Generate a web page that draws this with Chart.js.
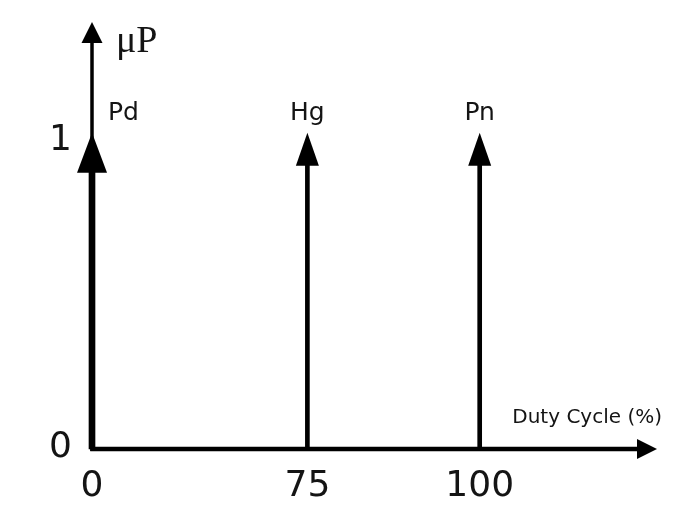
<!DOCTYPE html>
<html><head><meta charset="utf-8">
<script src="https://cdn.jsdelivr.net/npm/chart.js@4.4.1/dist/chart.umd.min.js"></script>
<style>html,body{margin:0;padding:0;background:#fff;}#wrap{width:685px;height:512px;position:relative;}</style>
</head><body><div id="wrap"><canvas id="c"></canvas></div>
<script>
// ---- data ----
const categories = ['Pd', 'Hg', 'Pn'];
const dutyCycle = [0, 75, 100];
const power = [1, 1, 1];
const xTickValues = [0, 75, 100];
const xTickLabels = ['0', '75', '100'];
const yTickValues = [0, 1];
const yTickLabels = ['0', '1'];
const yAxisTitle = 'μP';
const xAxisTitle = 'Duty Cycle (%)';

// schematic (non-uniform) x axis: value -> fraction of axis length
const xAxisStops = [[0, 0], [75, 5 / 13], [100, 9 / 13], [125, 1]];

class SchematicScale extends Chart.LinearScale {
  getPixelForValue(value) {
    const s = xAxisStops;
    for (let i = 1; i < s.length; i++) {
      if (value <= s[i][0] || i === s.length - 1) {
        const [v0, f0] = s[i - 1], [v1, f1] = s[i];
        return this.getPixelForDecimal(f0 + (value - v0) / (v1 - v0) * (f1 - f0));
      }
    }
  }
  getValueForPixel(pixel) {
    const d = this.getDecimalForPixel(pixel), s = xAxisStops;
    for (let i = 1; i < s.length; i++) {
      if (d <= s[i][1] || i === s.length - 1) {
        const [v0, f0] = s[i - 1], [v1, f1] = s[i];
        return v0 + (d - f0) / (f1 - f0) * (v1 - v0);
      }
    }
  }
}
SchematicScale.id = 'schematic';
SchematicScale.defaults = Chart.LinearScale.defaults;
Chart.register(SchematicScale);

const TEXT = '#141414';
const OVERSHOOT = 9; // arrow tip above the value

function tri(ctx, tipX, tipY, w, h, dir) {
  ctx.beginPath();
  if (dir === 'up') {
    ctx.moveTo(tipX, tipY); ctx.lineTo(tipX - w / 2, tipY + h); ctx.lineTo(tipX + w / 2, tipY + h);
  } else {
    ctx.moveTo(tipX, tipY); ctx.lineTo(tipX - h, tipY - w / 2); ctx.lineTo(tipX - h, tipY + w / 2);
  }
  ctx.closePath(); ctx.fill();
}

const schematicPlugin = {
  id: 'schematicArrows',
  beforeDatasetDraw(chart, args) {
    const ds = chart.data.datasets[args.index];
    const el = args.meta.data[0];
    const ctx = chart.ctx;
    ctx.save();
    ctx.beginPath();
    ctx.rect(0, el.y - OVERSHOOT + ds.arrowH * 0.5, chart.width, chart.height);
    ctx.clip();
  },
  afterDatasetDraw(chart) { chart.ctx.restore(); },
  afterDatasetsDraw(chart) {
    const ctx = chart.ctx;
    const { left, right, top, bottom } = chart.chartArea;
    ctx.save();
    ctx.fillStyle = '#000'; ctx.strokeStyle = '#000';
    // y axis
    ctx.lineWidth = 3.5;
    ctx.beginPath(); ctx.moveTo(left, bottom + 2); ctx.lineTo(left, top + 12); ctx.stroke();
    tri(ctx, left, top, 21, 21, 'up');
    // x axis
    ctx.lineWidth = 4.5;
    ctx.beginPath(); ctx.moveTo(left - 1.75, bottom); ctx.lineTo(right - 8, bottom); ctx.stroke();
    tri(ctx, right + 5, bottom, 20, 20, 'right');
    // spike arrowheads and labels
    chart.data.datasets.forEach((ds, i) => {
      const el = chart.getDatasetMeta(i).data[0];
      const tipY = el.y - OVERSHOOT;
      ctx.fillStyle = '#000';
      tri(ctx, el.x, tipY, ds.arrowW, ds.arrowH, 'up');
      ctx.fillStyle = TEXT;
      ctx.font = '25px "DejaVu Sans"';
      ctx.textBaseline = 'alphabetic';
      if (el.x - left < 5) { ctx.textAlign = 'left'; ctx.fillText(ds.label, el.x + 16, tipY - 13); }
      else { ctx.textAlign = 'center'; ctx.fillText(ds.label, el.x, tipY - 13); }
    });
    // axis titles
    ctx.fillStyle = TEXT;
    ctx.font = '38px "Liberation Serif"';
    ctx.textAlign = 'left'; ctx.textBaseline = 'alphabetic';
    ctx.fillText(yAxisTitle, left + 24, top + 30);
    ctx.font = '20px "DejaVu Sans"';
    ctx.textAlign = 'right';
    ctx.fillText(xAxisTitle, right + 10, bottom - 26);
    ctx.restore();
  }
};

const datasets = categories.map((name, i) => ({
  label: name,
  data: [{ x: dutyCycle[i], y: power[i] }],
  backgroundColor: '#000',
  borderWidth: 0,
  barThickness: i === 0 ? 6 : 4,
  maxBarThickness: i === 0 ? 6 : 4,
  grouped: false,
  clip: false,
  arrowW: i === 0 ? 30 : 23,
  arrowH: i === 0 ? 40 : 33
}));

const tickFont = { family: '"DejaVu Sans"', size: 36 };

new Chart(document.getElementById('c'), {
  type: 'bar',
  data: { datasets },
  plugins: [schematicPlugin],
  options: {
    responsive: true,
    maintainAspectRatio: false,
    animation: false,
    events: [],
    layout: { padding: { top: 22, right: 33, left: 0, bottom: 0 } },
    plugins: { legend: { display: false }, tooltip: { enabled: false } },
    scales: {
      x: {
        type: 'schematic', min: 0, max: 125,
        grid: { display: false, drawTicks: false },
        border: { display: false },
        afterBuildTicks: s => { s.ticks = xTickValues.map(v => ({ value: v })); },
        afterFit: s => { s.height = 63; s.paddingLeft = 0; s.paddingRight = 0; },
        ticks: {
          autoSkip: false, maxRotation: 0, minRotation: 0, padding: 16,
          color: TEXT, font: tickFont,
          callback: (v, i) => xTickLabels[i]
        }
      },
      y: {
        min: 0, max: 1.39,
        grid: { display: false, drawTicks: false },
        border: { display: false },
        afterBuildTicks: s => { s.ticks = yTickValues.map(v => ({ value: v })); },
        afterFit: s => { s.width = 92; s.paddingTop = 0; s.paddingBottom = 0; },
        ticks: {
          padding: 20, labelOffset: -1,
          color: TEXT, font: tickFont,
          callback: (v, i) => yTickLabels[i]
        }
      }
    }
  }
});
</script>
</body></html>
